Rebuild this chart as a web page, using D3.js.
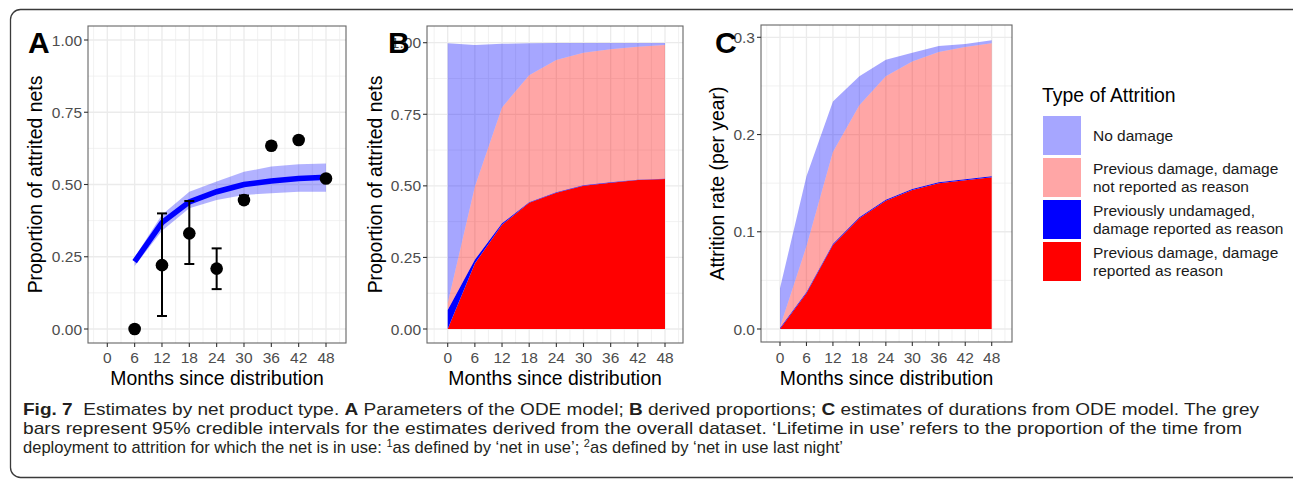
<!DOCTYPE html>
<html>
<head>
<meta charset="utf-8">
<script src="https://cdn.jsdelivr.net/npm/d3@7/dist/d3.min.js"></script>
<style>
  body { margin: 0; background: #fff; }
  text { font-family: "Liberation Sans", Arial, sans-serif; }
  .caption text { white-space: pre; }
</style>
</head>
<body>
<svg id="fig" width="1293" height="479"></svg>
<script>

// ---- data ----
var months = [0, 6, 12, 18, 24, 30, 36, 42, 48];

// panel A: observed proportions with 95% intervals
var obsMonths = [6, 12, 18, 24, 30, 36, 42, 48];
var obsProp  = [0.000, 0.221, 0.331, 0.209, 0.446, 0.634, 0.654, 0.521];
var obsLower = [null, 0.045, 0.225, 0.138, 0.435, null, null, null];
var obsUpper = [null, 0.400, 0.443, 0.279, 0.462, null, null, null];

// panel A: model fit and its ribbon
var fitMonths = [6, 12, 18, 24, 30, 36, 42, 48];
var fitMean  = [0.233, 0.368, 0.440, 0.475, 0.500, 0.512, 0.521, 0.525];
var fitLower = [0.218, 0.340, 0.418, 0.446, 0.464, 0.470, 0.475, 0.475];
var fitUpper = [0.248, 0.395, 0.475, 0.510, 0.544, 0.562, 0.570, 0.573];

// panel B: proportions by type (stack layers, bottom first)
var propReported     = [0.000, 0.229, 0.364, 0.441, 0.476, 0.500, 0.511, 0.520, 0.524];
var propUndamagedRep = [0.066, 0.013, 0.005, 0.002, 0.002, 0.002, 0.002, 0.001, 0.001];
var propNotReported  = [0.024, 0.255, 0.405, 0.443, 0.462, 0.463, 0.464, 0.465, 0.467];
var propNoDamage     = [0.908, 0.495, 0.222, 0.112, 0.059, 0.034, 0.022, 0.013, 0.007];

// panel C: attrition rates by type (stack layers, bottom first)
var rateReported     = [0.000, 0.0367, 0.0864, 0.114, 0.132, 0.143, 0.150, 0.153, 0.156];
var rateUndamagedRep = [0.001, 0.001, 0.001, 0.001, 0.001, 0.001, 0.001, 0.001, 0.001];
var rateNotReported  = [0.001, 0.0473, 0.0946, 0.115, 0.127, 0.131, 0.134, 0.136, 0.137];
var rateNoDamage     = [0.040, 0.072, 0.052, 0.030, 0.017, 0.009, 0.006, 0.003, 0.003];

var xTicks = [0, 6, 12, 18, 24, 30, 36, 42, 48];
var yTicksProp = [0, 0.25, 0.5, 0.75, 1];
var yTicksRate = [0, 0.1, 0.2, 0.3];

var legendLabels = [
    ["No damage"],
    ["Previous damage, damage", "not reported as reason"],
    ["Previously undamaged,", "damage reported as reason"],
    ["Previous damage, damage", "reported as reason"]
];
var legendFill = ["#0000FF", "#FF0000", "#0000FF", "#FF0000"];
var legendOpacity = [0.35, 0.35, 1, 1];

// stack colours, bottom layer first
var layerFill = ["#FF0000", "#0000FF", "#FF0000", "#0000FF"];
var layerOpacity = [1, 1, 0.35, 0.35];

var svg = d3.select("#fig");
var gridCol = "#EBEBEB", tickCol = "#333333", textCol = "#4D4D4D";

svg.append("rect").attr("width", 1293).attr("height", 479).attr("fill", "#fff");

// outer figure box
svg.append("rect")
    .attr("x", 10.5).attr("y", 9.5)
    .attr("width", 1295).attr("height", 468)
    .attr("rx", 10).attr("ry", 10)
    .attr("fill", "none").attr("stroke", "#3a3a3a").attr("stroke-width", 1.3);

// layout of the three panels
var panels = [
    {key: "A", left: 88, right: 346, top: 26, bottom: 343, x0: 107.3, x48: 326, y0: 329, yTop: 40,
     yMax: 1, yTicks: yTicksProp, fmt: d3.format(".2f"), titleX: 35, title: "Proportion of attrited nets", letterX: 28},
    {key: "B", left: 427, right: 683, top: 26, bottom: 343, x0: 447.7, x48: 665, y0: 329, yTop: 42.7,
     yMax: 1, yTicks: yTicksProp, fmt: d3.format(".2f"), titleX: 375, title: "Proportion of attrited nets", letterX: 388},
    {key: "C", left: 761, right: 1012, top: 25, bottom: 342, x0: 780, x48: 991.7, y0: 329, yTop: 37.3,
     yMax: 0.3, yTicks: yTicksRate, fmt: d3.format(".1f"), titleX: 717, title: "Attrition rate (per year)", letterX: 715}
];

panels.forEach(function (p) {
    var x = d3.scaleLinear().domain([0, 48]).range([p.x0, p.x48]);
    var y = d3.scaleLinear().domain([0, p.yMax]).range([p.y0, p.yTop]);
    var g = svg.append("g");

    g.append("rect")
        .attr("x", p.left).attr("y", p.top)
        .attr("width", p.right - p.left).attr("height", p.bottom - p.top)
        .attr("fill", "#fff");

    // minor grid
    var step = p.yTicks[1] - p.yTicks[0];
    var yMinor = p.yTicks.map(t => t + step / 2).filter(t => y(t) > p.top);
    var xMinor = d3.range(-3, 55, 6).filter(m => x(m) > p.left && x(m) < p.right);
    g.selectAll(".vminor").data(xMinor).enter().append("line")
        .attr("x1", d => x(d)).attr("x2", d => x(d))
        .attr("y1", p.top).attr("y2", p.bottom)
        .attr("stroke", gridCol).attr("stroke-width", 0.7);
    g.selectAll(".hminor").data(yMinor).enter().append("line")
        .attr("y1", d => y(d)).attr("y2", d => y(d))
        .attr("x1", p.left).attr("x2", p.right)
        .attr("stroke", gridCol).attr("stroke-width", 0.7);
    // major grid
    g.selectAll(".vmajor").data(xTicks).enter().append("line")
        .attr("x1", d => x(d)).attr("x2", d => x(d))
        .attr("y1", p.top).attr("y2", p.bottom)
        .attr("stroke", gridCol).attr("stroke-width", 1.3);
    g.selectAll(".hmajor").data(p.yTicks).enter().append("line")
        .attr("y1", d => y(d)).attr("y2", d => y(d))
        .attr("x1", p.left).attr("x2", p.right)
        .attr("stroke", gridCol).attr("stroke-width", 1.3);

    if (p.key === "A") drawObserved(g, x, y);
    if (p.key === "B") drawStack(g, x, y, [propReported, propUndamagedRep, propNotReported, propNoDamage]);
    if (p.key === "C") drawStack(g, x, y, [rateReported, rateUndamagedRep, rateNotReported, rateNoDamage]);

    // panel border
    g.append("rect")
        .attr("x", p.left).attr("y", p.top)
        .attr("width", p.right - p.left).attr("height", p.bottom - p.top)
        .attr("fill", "none").attr("stroke", tickCol).attr("stroke-width", 1.1).attr("opacity", 0.75);

    // ticks and labels
    g.selectAll(".xt").data(xTicks).enter().append("line")
        .attr("x1", d => x(d)).attr("x2", d => x(d))
        .attr("y1", p.bottom).attr("y2", p.bottom + 4)
        .attr("stroke", tickCol).attr("stroke-width", 1.1);
    g.selectAll(".xl").data(xTicks).enter().append("text")
        .attr("x", d => x(d)).attr("y", 363)
        .attr("text-anchor", "middle").attr("font-size", 15.5).attr("fill", textCol)
        .text(d => d);
    g.selectAll(".yt").data(p.yTicks).enter().append("line")
        .attr("x1", p.left - 4).attr("x2", p.left)
        .attr("y1", d => y(d)).attr("y2", d => y(d))
        .attr("stroke", tickCol).attr("stroke-width", 1.1);
    g.selectAll(".yl").data(p.yTicks).enter().append("text")
        .attr("x", p.left - 6).attr("y", d => y(d) + 5.5)
        .attr("text-anchor", "end").attr("font-size", 15.5).attr("fill", textCol)
        .text(d => p.fmt(d));

    // axis titles
    g.append("text")
        .attr("x", (p.left + p.right) / 2).attr("y", 385)
        .attr("text-anchor", "middle").attr("font-size", 19.4).attr("fill", "#000")
        .text("Months since distribution");
    g.append("text")
        .attr("transform", "translate(" + (p.titleX + 7) + "," + ((p.top + p.bottom) / 2) + ") rotate(-90)")
        .attr("text-anchor", "middle").attr("font-size", 19.4).attr("fill", "#000")
        .text(p.title);

    // panel letter
    g.append("text")
        .attr("x", p.letterX).attr("y", 53)
        .attr("font-size", 30).attr("font-weight", "bold").attr("fill", "#000")
        .text(p.key);
});

function drawObserved(g, x, y) {
    var ribbon = d3.area()
        .x((d, i) => x(fitMonths[i]))
        .y0((d, i) => y(fitLower[i]))
        .y1((d, i) => y(fitUpper[i]));
    g.append("path").datum(fitMonths).attr("d", ribbon)
        .attr("fill", "#0000FF").attr("fill-opacity", 0.3);

    var line = d3.line()
        .x((d, i) => x(fitMonths[i]))
        .y((d, i) => y(fitMean[i]));
    g.append("path").datum(fitMonths).attr("d", line)
        .attr("fill", "none").attr("stroke", "#0000FF").attr("stroke-width", 5.5);

    var bars = obsMonths.map((m, i) => ({m: m, lo: obsLower[i], hi: obsUpper[i]})).filter(d => d.lo !== null);
    bars.forEach(function (d) {
        g.append("line").attr("x1", x(d.m)).attr("x2", x(d.m))
            .attr("y1", y(d.lo)).attr("y2", y(d.hi))
            .attr("stroke", "#000").attr("stroke-width", 2);
        [d.lo, d.hi].forEach(v => {
            g.append("line").attr("x1", x(d.m) - 5).attr("x2", x(d.m) + 5)
                .attr("y1", y(v)).attr("y2", y(v))
                .attr("stroke", "#000").attr("stroke-width", 2);
        });
    });

    g.selectAll(".pt").data(obsMonths).enter().append("circle")
        .attr("cx", d => x(d)).attr("cy", (d, i) => y(obsProp[i]))
        .attr("r", 6.3).attr("fill", "#000");
}

function drawStack(g, x, y, layers) {
    var keys = ["l0", "l1", "l2", "l3"];
    var rows = months.map((m, i) => {
        var r = {m: m};
        keys.forEach((k, j) => r[k] = layers[j][i]);
        return r;
    });
    var series = d3.stack().keys(keys)(rows);
    var area = d3.area()
        .x(d => x(d.data.m))
        .y0(d => y(d[0]))
        .y1(d => y(d[1]));
    g.selectAll(".layer").data(series).enter().append("path")
        .attr("d", area)
        .attr("fill", (d, i) => layerFill[i])
        .attr("fill-opacity", (d, i) => layerOpacity[i]);
}

// legend
var leg = svg.append("g");
leg.append("text").attr("x", 1042).attr("y", 102)
    .attr("font-size", 19.4).attr("fill", "#000").text("Type of Attrition");
legendLabels.forEach(function (lines, i) {
    var top = 116 + i * 42;
    leg.append("rect").attr("x", 1043).attr("y", top).attr("width", 38).attr("height", 39)
        .attr("fill", legendFill[i]).attr("fill-opacity", legendOpacity[i]);
    var mid = top + 19.5;
    lines.forEach((t, k) => {
        leg.append("text")
            .attr("x", 1093)
            .attr("y", mid + 5.5 + (k - (lines.length - 1) / 2) * 17.5)
            .attr("font-size", 15.5).attr("fill", "#1a1a1a")
            .text(t);
    });
});

// caption, each line squeezed to the width it has in the figure
var captionLines = [
    {y: 415, width: 1236, parts: [["Fig. 7", "bold"], ["  Estimates by net product type. "], ["A", "bold"],
        [" Parameters of the ODE model; "], ["B", "bold"], [" derived proportions; "], ["C", "bold"],
        [" estimates of durations from ODE model. The grey"]]},
    {y: 434, width: 1219, parts: [["bars represent 95% credible intervals for the estimates derived from the overall dataset. \u2018Lifetime in use\u2019 refers to the proportion of the time from"]]},
    {y: 453, width: 820, parts: [["deployment to attrition for which the net is in use: "], ["1", "sup"],
        ["as defined by \u2018net in use\u2019; "], ["2", "sup"], ["as defined by \u2018net in use last night\u2019"]]}
];
var cap = svg.append("g").attr("class", "caption");
captionLines.forEach(function (ln) {
    var t = cap.append("text").attr("x", 23).attr("y", ln.y)
        .attr("font-size", 16.6).attr("fill", "#231F20")
        .attr("textLength", ln.width)
        .attr("lengthAdjust", "spacingAndGlyphs");
    ln.parts.forEach(function (p) {
        var s = t.append("tspan").text(p[0]);
        if (p[1] === "bold") s.attr("font-weight", "bold");
        if (p[1] === "sup") s.attr("font-size", 11).attr("baseline-shift", "super");
    });
});

</script>
</body>
</html>
